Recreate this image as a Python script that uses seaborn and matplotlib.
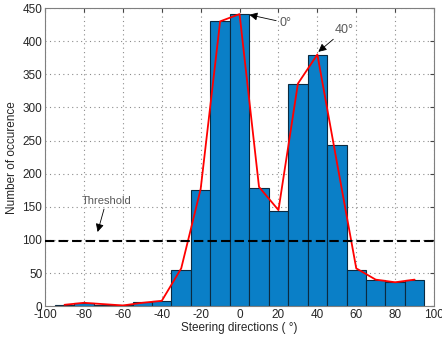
import numpy as np
import pandas as pd
import matplotlib
matplotlib.use('Agg')
import matplotlib.pyplot as plt
import seaborn as sns

# Histogram of steering directions (bar centres, counts)
bin_centers = [-90, -80, -70, -60, -50, -40, -30, -20, -10, 0, 10, 20, 30, 40, 50, 60, 70, 80, 90]
bin_counts = [2, 4, 2, 1, 6, 8, 55, 176, 431, 441, 178, 144, 335, 379, 243, 55, 40, 36, 39]
bin_edges = [-95, -85, -75, -65, -55, -45, -35, -25, -15, -5, 5, 15, 25, 35, 45, 55, 65, 75, 85, 95]

# Red envelope curve
curve_x = [-90, -80, -70, -60, -50, -40, -30, -20, -10, 0, 10, 20, 30, 40, 50, 60, 70, 80, 90]
curve_y = [2, 5, 3, 1, 5, 8, 57, 177, 430, 441, 180, 145, 336, 380, 218, 57, 40, 36, 40]

threshold = 99

sns.set_style('white')
plt.rcParams['font.family'] = ['Liberation Sans', 'DejaVu Sans']
plt.rcParams['axes.unicode_minus'] = False

hist_df = pd.DataFrame({'direction': bin_centers, 'count': bin_counts})
curve_df = pd.DataFrame({'direction': curve_x, 'count': curve_y})

fig = plt.figure(figsize=(4.42, 3.39), dpi=100)
ax = fig.add_axes([0.102, 0.097, 0.880, 0.879])

ax.grid(True, color='#8c8c8c', linestyle=(0, (1, 3)), linewidth=0.8)
ax.set_axisbelow(True)

sns.histplot(data=hist_df, x='direction', weights='count',
             bins=bin_edges, color='#0a7fc7', alpha=1,
             edgecolor='#0b2a40', linewidth=0.8, ax=ax)

sns.lineplot(data=curve_df, x='direction', y='count', color='red',
             linewidth=1.3, ax=ax, zorder=3)

ax.axhline(threshold, color='black', linestyle=(0, (4.5, 2)), linewidth=1.5, zorder=4)

arrow = dict(arrowstyle='-|>', color='black', lw=0.6, mutation_scale=12,
             shrinkA=0, shrinkB=0)
txt_color = '#595959'
ax.annotate('0°', xy=(5, 440), xytext=(20.5, 428), fontsize=9,
            color=txt_color, va='center', ha='left', arrowprops=arrow, zorder=5)
ax.annotate('40°', xy=(40.5, 384), xytext=(49, 417), fontsize=9,
            color=txt_color, va='center', ha='left', arrowprops=arrow, zorder=5)
ax.annotate('Threshold', xy=(-73, 112), xytext=(-68.5, 159), fontsize=8,
            color=txt_color, va='center', ha='center', arrowprops=arrow, zorder=5)

ax.set_xlim(-100, 100)
ax.set_ylim(0, 450)
ax.set_xticks(np.arange(-100, 101, 20))
ax.set_yticks(np.arange(0, 451, 50))
ax.tick_params(direction='in', length=3, labelsize=8.5, colors='#262626',
               color='#444444', top=True, right=True, pad=2)
for s in ax.spines.values():
    s.set_color('#7f7f7f')
    s.set_linewidth(0.8)

ax.set_xlabel('Steering directions ( °)', fontsize=8.5, color='#262626', labelpad=1)
ax.set_ylabel('Number of occurence', fontsize=8.5, color='#262626', labelpad=3)

fig.savefig('out.png', dpi=100)
